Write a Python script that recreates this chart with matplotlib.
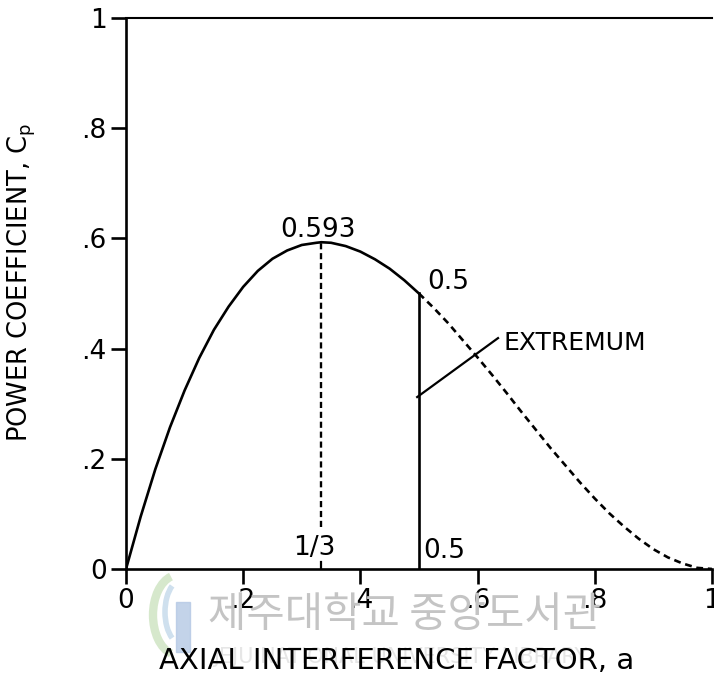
import matplotlib.pyplot as plt
from matplotlib.patches import Arc

a_vals = [0.0, 0.025, 0.05, 0.075, 0.1, 0.125, 0.15, 0.175, 0.2, 0.225,
          0.25, 0.275, 0.3, 0.325, 1 / 3, 0.35, 0.375, 0.4, 0.425, 0.45,
          0.475, 0.5, 0.525, 0.55, 0.575, 0.6, 0.625, 0.65, 0.675, 0.7,
          0.725, 0.75, 0.775, 0.8, 0.825, 0.85, 0.875, 0.9, 0.925, 0.95,
          0.975, 1.0]
cp_vals = [0.0, 0.095, 0.181, 0.257, 0.324, 0.383, 0.434, 0.476, 0.512, 0.541,
           0.563, 0.578, 0.588, 0.592, 0.593, 0.592, 0.586, 0.576, 0.562, 0.545,
           0.524, 0.5, 0.474, 0.446, 0.415, 0.384, 0.352, 0.319, 0.285, 0.252,
           0.219, 0.188, 0.157, 0.128, 0.101, 0.077, 0.055, 0.036, 0.021, 0.010,
           0.002, 0.0]

a_opt = 1 / 3
cp_max = 0.593
a_ext = 0.5
cp_ext = 0.5

ticks = [0, 0.2, 0.4, 0.6, 0.8, 1.0]
tick_labels = ["0", ".2", ".4", ".6", ".8", "1"]

fig = plt.figure(figsize=(7.14, 6.86), dpi=100)

# library watermark, drawn first so the chart sits on top
fig.patches.append(Arc((178 / 714, 1 - 615 / 686), 50 / 714, 80 / 686,
                       theta1=100, theta2=260, transform=fig.transFigure,
                       color="#d6e8cc", lw=6, zorder=0))
fig.patches.append(Arc((182 / 714, 1 - 612 / 686), 34 / 714, 64 / 686,
                       theta1=110, theta2=250, transform=fig.transFigure,
                       color="#cfe0ee", lw=4, zorder=0))
fig.patches.append(plt.Rectangle((176 / 714, 1 - 652 / 686), 14 / 714, 50 / 686,
                                 transform=fig.transFigure, color="#b4c8e4",
                                 alpha=0.8, zorder=0))
fig.text(405 / 714, 1 - 615 / 686, "제주대학교 중앙도서관",
         family=["Noto Sans CJK KR", "DejaVu Sans"], fontsize=30,
         color="#c4c4c4", ha="center", va="center", zorder=0)
fig.text(400 / 714, 1 - 657 / 686, "JEJU NATIONAL UNIVERSITY LIBRARY",
         fontsize=15, color="#e6e6e6", ha="center", va="center", zorder=0)

ax = fig.add_axes([0.1765, 0.1706, 0.8205, 0.8032])
ax.patch.set_alpha(0)

# solid up to a = 0.5, dashed beyond
a_lo = [a for a in a_vals if a <= a_ext]
cp_lo = cp_vals[:len(a_lo)]
a_hi = [a for a in a_vals if a >= a_ext]
cp_hi = cp_vals[len(a_vals) - len(a_hi):]
ax.plot(a_lo, cp_lo, color="black", lw=1.9, solid_capstyle="round")
ax.plot(a_hi, cp_hi, color="black", lw=1.9, linestyle=(0, (2.6, 1.8)))

# optimum and extremum markers
ax.plot([a_opt, a_opt], [0.076, cp_max], color="black", lw=1.7,
        linestyle=(0, (2.6, 1.6)))
ax.plot([a_opt, a_opt], [0, 0.012], color="black", lw=1.6)
ax.plot([a_ext, a_ext], [0, cp_ext], color="black", lw=1.9)
ax.plot([0.497, 0.635], [0.312, 0.419], color="black", lw=1.6)

ax.text(a_opt - 0.005, cp_max + 0.01, f"{cp_max:.3f}", fontsize=19,
        ha="center", va="baseline")
ax.text(0.515, cp_ext + 0.008, f"{cp_ext}", fontsize=19, ha="left", va="baseline")
ax.text(0.507, 0.02, f"{a_ext}", fontsize=19, ha="left", va="baseline")
ax.text(0.322, 0.025, "1/3", fontsize=19, ha="center", va="baseline")
ax.text(0.645, 0.397, "EXTREMUM", fontsize=18, ha="left", va="baseline")

ax.set_xlim(0, 1.0)
ax.set_ylim(0, 1.0)
ax.set_xticks(ticks)
ax.set_xticklabels(tick_labels)
ax.set_yticks(ticks)
ax.set_yticklabels(tick_labels)
ax.tick_params(direction="out", length=11, width=1.9, labelsize=19, pad=3)
ax.spines["right"].set_visible(False)
for side in ["left", "bottom"]:
    ax.spines[side].set_linewidth(1.9)
ax.spines["top"].set_linewidth(1.5)

fig.text(22 / 714, 1 - 282 / 686, r"POWER COEFFICIENT, C$_\mathsf{p}$",
         rotation=90, fontsize=18.5, ha="center", va="center")
fig.text(0.556, 1 - 661 / 686, "AXIAL INTERFERENCE FACTOR, a",
         fontsize=21, ha="center", va="center")

fig.savefig("out.png", dpi=100)
